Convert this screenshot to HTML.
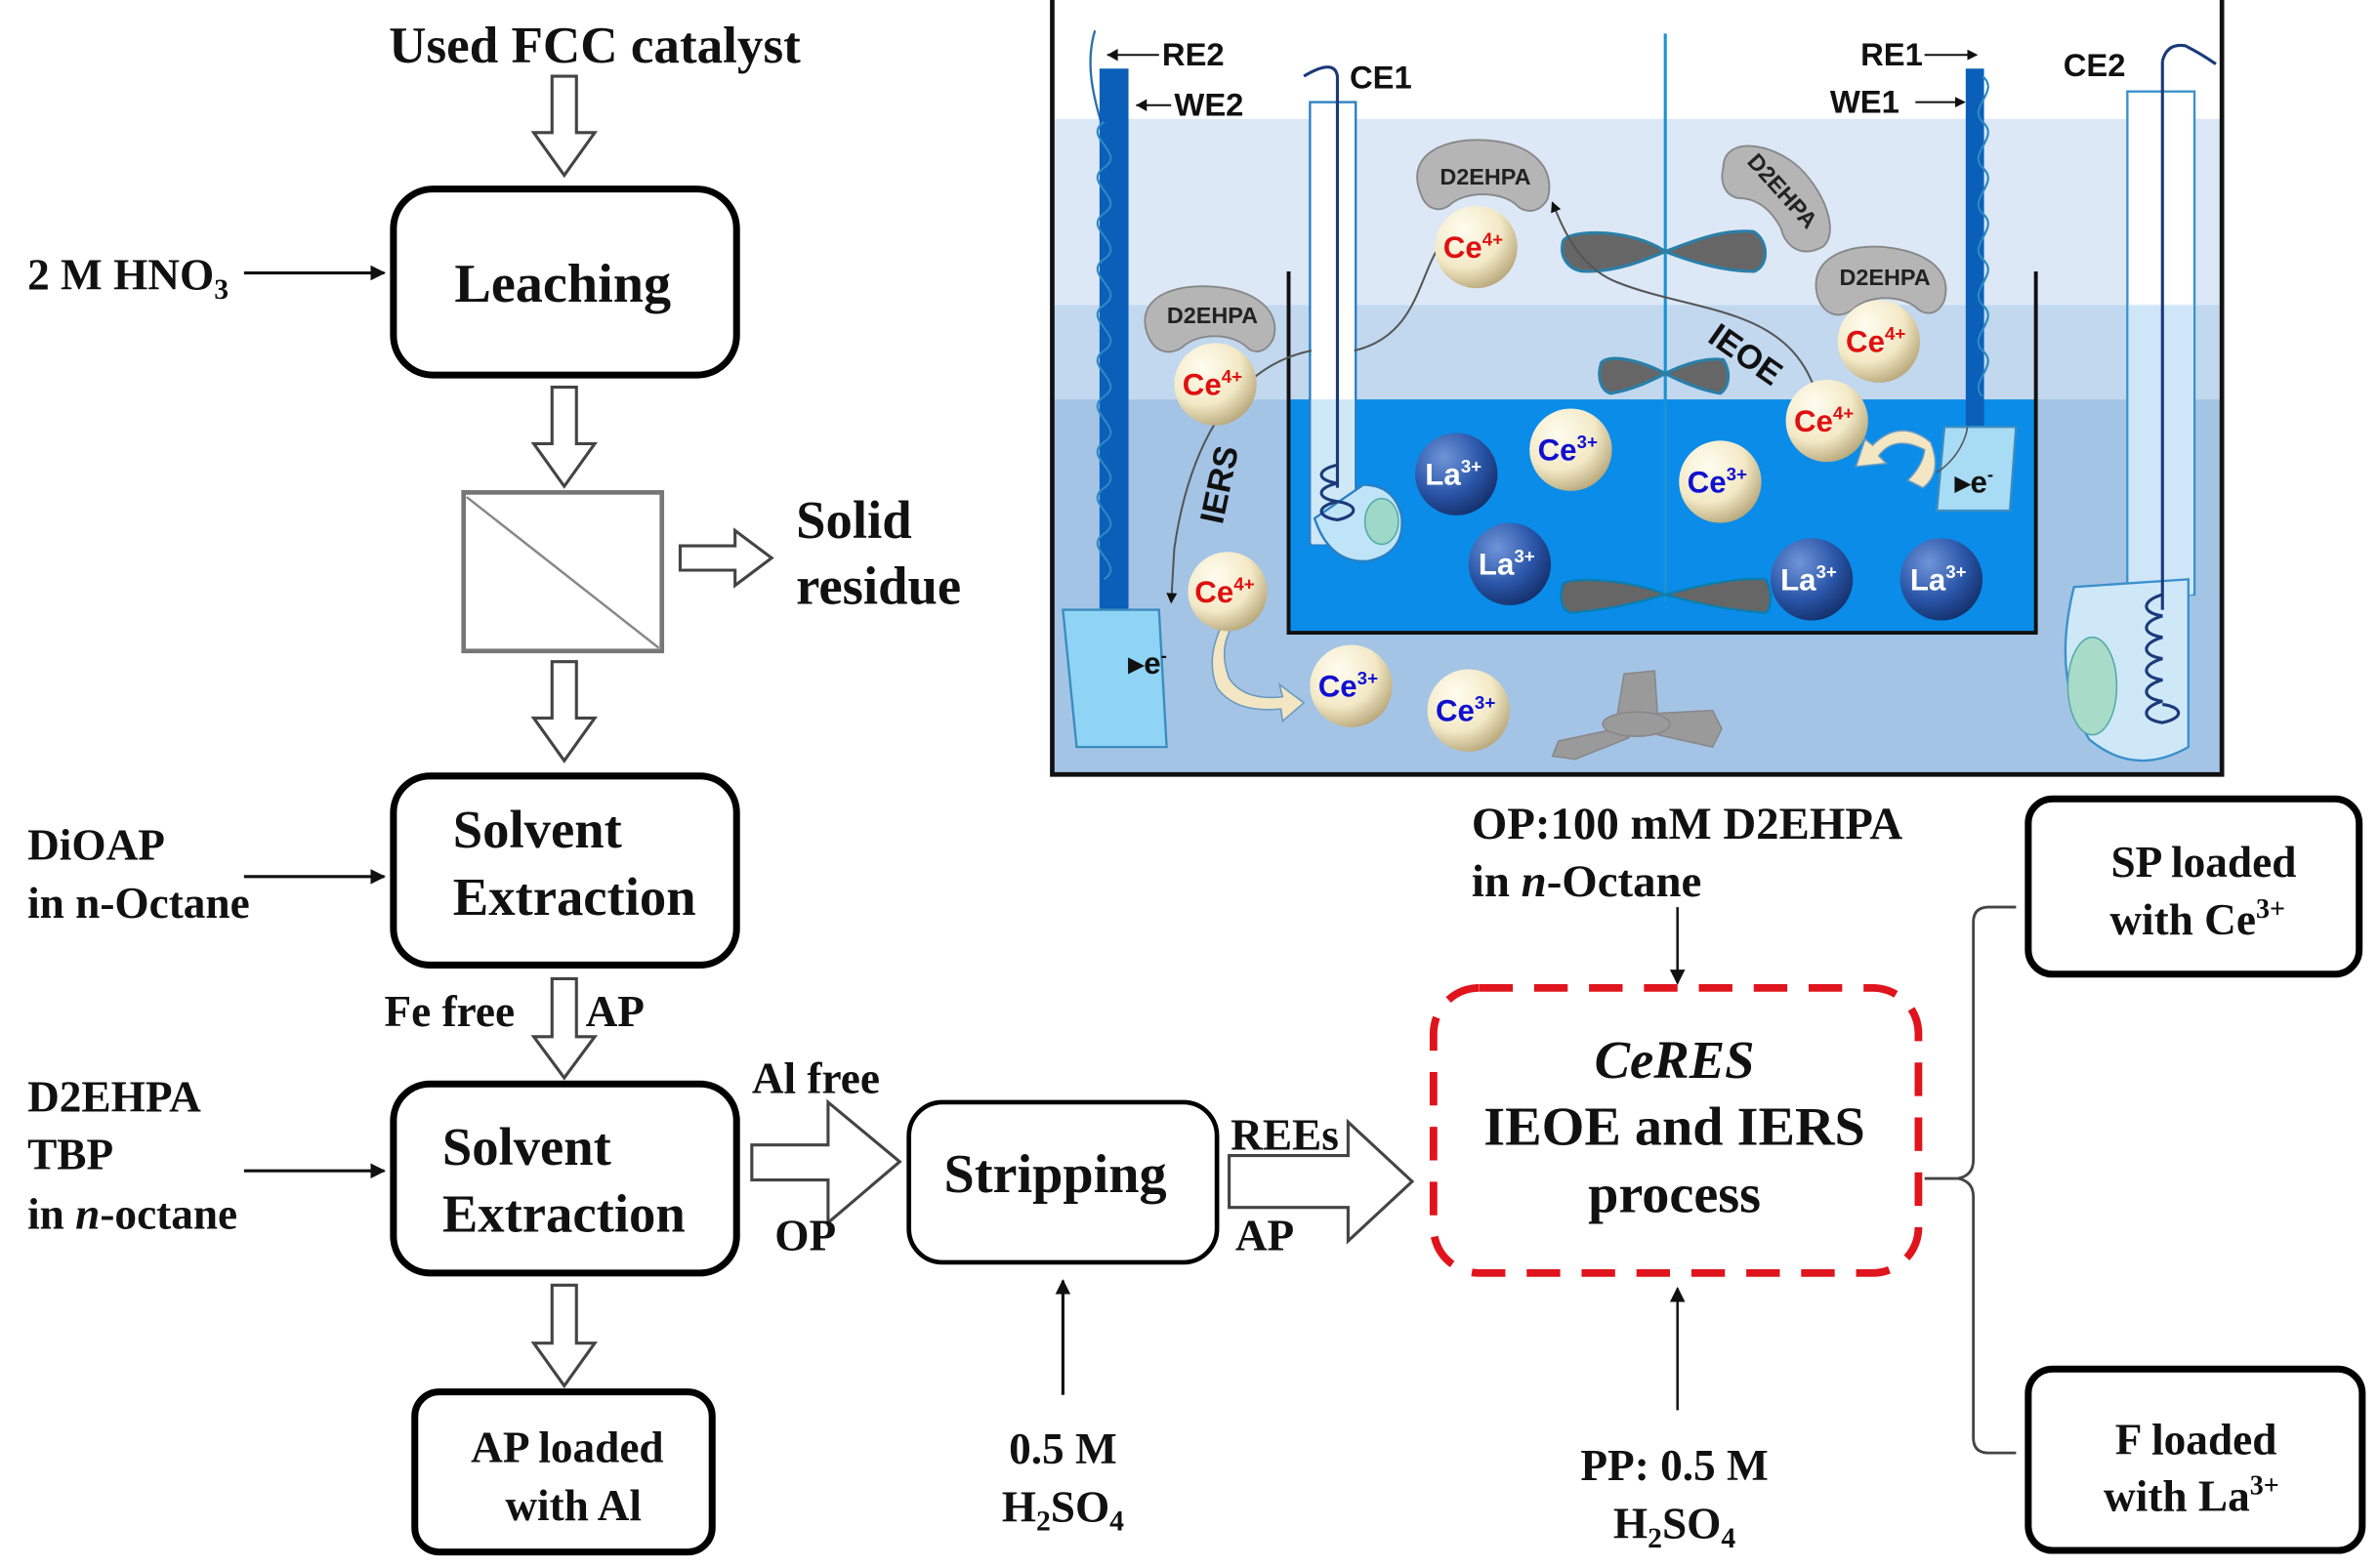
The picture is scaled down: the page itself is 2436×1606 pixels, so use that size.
<!DOCTYPE html>
<html><head><meta charset="utf-8"><style>
html,body{margin:0;padding:0;background:#fff;}
svg{display:block;}
.t{font-family:"Liberation Serif",serif;font-weight:bold;fill:#111;}
.s{font-family:"Liberation Sans",sans-serif;font-weight:bold;}
</style></head><body>
<svg width="2436" height="1606" viewBox="0 0 1560 1028.5" preserveAspectRatio="none" xmlns="http://www.w3.org/2000/svg">
<defs>
<marker id="ah" markerWidth="10" markerHeight="10" refX="9" refY="5" orient="auto" markerUnits="userSpaceOnUse"><path d="M0,0 L10,5 L0,10 z" fill="#111"/></marker>
<marker id="sa" markerWidth="7" markerHeight="7" refX="6" refY="3.5" orient="auto" markerUnits="userSpaceOnUse"><path d="M0,0 L7,3.5 L0,7 z" fill="#111"/></marker>
<radialGradient id="cream" cx="0.35" cy="0.3" r="0.75"><stop offset="0" stop-color="#fffdf0"/><stop offset="0.6" stop-color="#f3e9c6"/><stop offset="1" stop-color="#b7a77a"/></radialGradient>
<radialGradient id="la" cx="0.35" cy="0.3" r="0.75"><stop offset="0" stop-color="#6f95d8"/><stop offset="0.6" stop-color="#2a55a8"/><stop offset="1" stop-color="#14306a"/></radialGradient>
</defs>

<!-- ===== Flowchart left ===== -->
<text class="t" x="390" y="41" font-size="34" text-anchor="middle">Used FCC catalyst</text>
<path d="M362,50 h16 v37 h12 l-20,28 l-20,-28 h12 z" fill="#fff" stroke="#444" stroke-width="2"/>
<rect x="258" y="124" width="225" height="122" rx="26" fill="#fff" stroke="#000" stroke-width="4.5"/>
<text class="t" x="369" y="198" font-size="36" text-anchor="middle">Leaching</text>
<text class="t" x="18" y="190" font-size="29">2 M HNO<tspan font-size="19" dy="6">3</tspan></text>
<line x1="160" y1="179" x2="252" y2="179" stroke="#111" stroke-width="2" marker-end="url(#ah)"/>

<path d="M362,254 h16 v37 h12 l-20,28 l-20,-28 h12 z" fill="#fff" stroke="#444" stroke-width="2"/>
<rect x="304" y="323" width="130" height="104" fill="#fff" stroke="#777" stroke-width="3"/>
<line x1="306" y1="326" x2="432" y2="425" stroke="#888" stroke-width="1.6"/>
<path d="M446,358 h36 v-10 l24,18 l-24,18 v-10 h-36 z" fill="#fff" stroke="#444" stroke-width="2"/>
<text class="t" x="522" y="353" font-size="35">Solid</text>
<text class="t" x="522" y="396" font-size="35">residue</text>

<path d="M362,434 h16 v37 h12 l-20,28 l-20,-28 h12 z" fill="#fff" stroke="#444" stroke-width="2"/>
<rect x="258" y="509" width="225" height="124" rx="24" fill="#fff" stroke="#000" stroke-width="4.5"/>
<text class="t" x="297" y="556" font-size="35">Solvent</text>
<text class="t" x="297" y="600" font-size="35">Extraction</text>
<text class="t" x="18" y="564" font-size="29">DiOAP</text>
<text class="t" x="18" y="602" font-size="29">in n-Octane</text>
<line x1="160" y1="575" x2="252" y2="575" stroke="#111" stroke-width="2" marker-end="url(#ah)"/>

<text class="t" x="252" y="673" font-size="29">Fe free</text>
<text class="t" x="384" y="673" font-size="29">AP</text>
<path d="M362,642 h16 v38 h12 l-20,27 l-20,-27 h12 z" fill="#fff" stroke="#444" stroke-width="2"/>
<rect x="258" y="711" width="225" height="124" rx="24" fill="#fff" stroke="#000" stroke-width="4.5"/>
<text class="t" x="290" y="764" font-size="35">Solvent</text>
<text class="t" x="290" y="808" font-size="35">Extraction</text>
<text class="t" x="18" y="729" font-size="29">D2EHPA</text>
<text class="t" x="18" y="767" font-size="29">TBP</text>
<text class="t" x="18" y="806" font-size="29">in <tspan font-style="italic">n</tspan>-octane</text>
<line x1="160" y1="768" x2="252" y2="768" stroke="#111" stroke-width="2" marker-end="url(#ah)"/>

<path d="M362,843 h16 v38 h12 l-20,28 l-20,-28 h12 z" fill="#fff" stroke="#444" stroke-width="2"/>
<rect x="272" y="913" width="195" height="105" rx="16" fill="#fff" stroke="#000" stroke-width="4.5"/>
<text class="t" x="372" y="959" font-size="29" text-anchor="middle">AP loaded</text>
<text class="t" x="376" y="997" font-size="29" text-anchor="middle">with Al</text>

<text class="t" x="493" y="717" font-size="29">Al free</text>
<path d="M493,751 h50 v-28 l47,39 l-47,40 v-28 h-50 z" fill="#fff" stroke="#444" stroke-width="2"/>
<text class="t" x="508" y="820" font-size="29">OP</text>
<rect x="596" y="723" width="202" height="105" rx="22" fill="#fff" stroke="#000" stroke-width="3"/>
<text class="t" x="692" y="782" font-size="36" text-anchor="middle">Stripping</text>
<line x1="697" y1="915" x2="697" y2="840" stroke="#111" stroke-width="2" marker-end="url(#ah)"/>
<text class="t" x="697" y="960" font-size="29" text-anchor="middle">0.5 M</text>
<text class="t" x="697" y="998" font-size="29" text-anchor="middle">H<tspan font-size="19" dy="6">2</tspan><tspan dy="-6">SO</tspan><tspan font-size="19" dy="6">4</tspan></text>

<path d="M806,758 h78 v-22 l42,39 l-42,39 v-22 h-78 z" fill="#fff" stroke="#444" stroke-width="2"/>
<rect x="808" y="736" width="74" height="20" fill="#fff"/>
<text class="t" x="807" y="754" font-size="29">REEs</text>
<text class="t" x="810" y="820" font-size="29">AP</text>

<rect x="940" y="648" width="318" height="187" rx="30" fill="none" stroke="#e0141c" stroke-width="5" stroke-dasharray="22,14"/>
<text class="t" x="1098" y="707" font-size="35" text-anchor="middle" font-style="italic">CeRES</text>
<text class="t" x="1098" y="751" font-size="36" text-anchor="middle">IEOE and IERS</text>
<text class="t" x="1098" y="795" font-size="36" text-anchor="middle">process</text>
<text class="t" x="965" y="550" font-size="30">OP:100 mM D2EHPA</text>
<text class="t" x="965" y="588" font-size="30">in <tspan font-style="italic">n</tspan>-Octane</text>
<line x1="1100" y1="595" x2="1100" y2="645" stroke="#111" stroke-width="1.6" marker-end="url(#ah)"/>
<line x1="1100" y1="925" x2="1100" y2="845" stroke="#111" stroke-width="1.6" marker-end="url(#ah)"/>
<text class="t" x="1098" y="971" font-size="29" text-anchor="middle">PP: 0.5 M</text>
<text class="t" x="1098" y="1009" font-size="29" text-anchor="middle">H<tspan font-size="19" dy="6">2</tspan><tspan dy="-6">SO</tspan><tspan font-size="19" dy="6">4</tspan></text>

<path d="M1322,595 h-18 q-10,0 -10,10 v156 q0,10 -10,12 h-22 M1262,773 h22 q10,2 10,12 v158 q0,10 10,10 h18" fill="none" stroke="#444" stroke-width="1.8"/>
<rect x="1330" y="524" width="217" height="115" rx="16" fill="#fff" stroke="#000" stroke-width="4.5"/>
<text class="t" x="1445" y="575" font-size="29" text-anchor="middle">SP loaded</text>
<text class="t" x="1441" y="613" font-size="29" text-anchor="middle">with Ce<tspan font-size="18" dy="-11">3+</tspan></text>
<rect x="1330" y="898" width="219" height="119" rx="16" fill="#fff" stroke="#000" stroke-width="4.5"/>
<text class="t" x="1440" y="954" font-size="29" text-anchor="middle">F loaded</text>
<text class="t" x="1437" y="991" font-size="29" text-anchor="middle">with La<tspan font-size="18" dy="-11">3+</tspan></text>

<!-- ===== Beaker figure ===== -->
<g>
<rect x="690" y="0" width="767" height="78" fill="#fff"/>
<rect x="690" y="78" width="767" height="122" fill="#dce8f5"/>
<rect x="690" y="200" width="767" height="62" fill="#c1d8ee"/>
<rect x="690" y="262" width="767" height="246" fill="#a4c4e6"/>
<rect x="845" y="262" width="490" height="152" fill="#0a8ce8"/>
<path d="M845,178 V415 H1335 V178" fill="none" stroke="#111" stroke-width="2.5"/>
<path d="M690,0 V508 H1457 V0" fill="none" stroke="#111" stroke-width="3"/>
<line x1="1092" y1="22" x2="1092" y2="395" stroke="#1c92d2" stroke-width="2"/>

<path d="M1092,165 C1070,150 1030,150 1025,158 C1022,170 1030,178 1040,178 C1060,178 1075,172 1092,165 C1110,158 1130,150 1150,152 C1160,158 1160,175 1150,178 C1130,178 1110,172 1092,165 z" fill="#666" stroke="#2a7fa8" stroke-width="2"/>
<path d="M1092,245 C1075,236 1055,232 1050,238 C1047,248 1050,256 1056,258 C1070,256 1082,250 1092,245 C1102,240 1118,234 1130,236 C1135,244 1134,254 1128,258 C1115,256 1102,250 1092,245 z" fill="#666" stroke="#2a7fa8" stroke-width="2"/>
<path d="M1092,390 C1070,380 1030,378 1025,383 C1022,393 1024,400 1030,402 C1055,400 1075,395 1092,390 C1110,385 1140,378 1158,380 C1162,388 1162,398 1158,402 C1130,400 1110,395 1092,390 z" fill="#666" stroke="#0a7fb0" stroke-width="1.5"/>
<g fill="#9a9a9a" stroke="#888">
<path d="M1060,472 l5,-30 l20,-2 l2,30 z"/>
<path d="M1060,478 l-38,8 l-4,10 l15,2 l35,-14 z"/>
<path d="M1085,468 l38,-2 l6,12 l-6,12 l-36,-8 z"/>
<ellipse cx="1073" cy="475" rx="22" ry="8"/>
</g>

<path d="M718,20 C712,40 716,60 722,80" fill="none" stroke="#2c6fa8" stroke-width="1.5"/>
<rect x="721" y="45" width="19" height="357" fill="#0a5fb8"/>
<path d="M724,80 c-15,10 15,20 0,30 c-15,10 15,20 0,30 c-15,10 15,20 0,30 c-15,10 15,20 0,30 c-15,10 15,20 0,30 c-15,10 15,20 0,30 c-15,10 15,20 0,30 c-15,10 15,20 0,30 c-15,10 15,20 0,30 c-15,10 15,20 0,30" fill="none" stroke="#2d88c4" stroke-width="1.4"/>
<path d="M697,400 L760,400 L765,490 L706,490 z" fill="#8fd4f5" stroke="#3a8cc0" stroke-width="1.5"/>
<text class="s" x="740" y="442" font-size="20" fill="#111">▸e<tspan font-size="12" dy="-8">-</tspan></text>
<line x1="726" y1="36" x2="760" y2="36" stroke="#111" stroke-width="1.3"/>
<path d="M726,36 l7,-4 v8 z" fill="#111"/>
<text class="s" x="762" y="43" font-size="21" fill="#111">RE2</text>
<line x1="745" y1="69" x2="768" y2="69" stroke="#111" stroke-width="1.3"/>
<path d="M745,69 l7,-4 v8 z" fill="#111"/>
<text class="s" x="770" y="76" font-size="21" fill="#111">WE2</text>

<rect x="859" y="67" width="30" height="290" fill="#fff" stroke="#2a7fc2" stroke-width="1.5"/>
<rect x="860" y="262" width="28" height="95" fill="#cfe8f8"/>
<path d="M855,50 q20,-12 22,0 V320" fill="none" stroke="#1a3a7a" stroke-width="2"/>
<path d="M862,340 q10,30 35,28 q25,-5 22,-30 q-5,-20 -25,-20 z" fill="#bfe4f8" stroke="#2a7fc2" stroke-width="1.5"/>
<ellipse cx="906" cy="342" rx="11" ry="15" fill="#9ed8c8" stroke="#5aa"/>
<path d="M877,305 c-14,3 -14,10 0,12 c-14,3 -14,10 0,12 c-14,3 -14,10 0,12 c14,-3 14,-10 0,-12" fill="none" stroke="#1a3a7a" stroke-width="2"/>
<text class="s" x="885" y="58" font-size="21" fill="#111">CE1</text>

<rect x="1289" y="45" width="12" height="235" fill="#0a5fb8"/>
<path d="M1300,50 c12,10 -10,20 0,30 c12,10 -10,20 0,30 c12,10 -10,20 0,30 c12,10 -10,20 0,30 c12,10 -10,20 0,30 c12,10 -10,20 0,30 c12,10 -10,20 0,30" fill="none" stroke="#2d88c4" stroke-width="1.4"/>
<path d="M1275,280 L1322,280 L1318,335 L1270,335 z" fill="#a8dcf5" stroke="#3a8cc0" stroke-width="1.5"/>
<text class="s" x="1282" y="323" font-size="20" fill="#111">▸e<tspan font-size="12" dy="-8">-</tspan></text>
<text class="s" x="1220" y="43" font-size="21" fill="#111">RE1</text>
<line x1="1262" y1="36" x2="1296" y2="36" stroke="#111" stroke-width="1.3" marker-end="url(#sa)"/>
<text class="s" x="1200" y="74" font-size="21" fill="#111">WE1</text>
<line x1="1256" y1="67" x2="1288" y2="67" stroke="#111" stroke-width="1.3" marker-end="url(#sa)"/>

<rect x="1395" y="60" width="44" height="330" fill="#fff" stroke="#3a90cc" stroke-width="1.5"/>
<rect x="1396" y="200" width="42" height="190" fill="#cfe6f8"/>
<path d="M1360,385 q-15,60 10,100 q30,25 65,5 V380 z" fill="#cfe8f8" stroke="#3a90cc" stroke-width="1.5"/>
<ellipse cx="1372" cy="450" rx="16" ry="32" fill="#a8dcc8" stroke="#5aa"/>
<path d="M1418,40 q3,-12 15,-10 q10,5 20,12 M1418,40 V400" fill="none" stroke="#1a3a7a" stroke-width="2"/>
<path d="M1418,390 c-14,4 -14,12 0,14 c-14,4 -14,12 0,14 c-14,4 -14,12 0,14 c-14,4 -14,12 0,14 c-14,4 -14,12 0,14 c-14,4 -14,12 0,14 c14,-3 14,-10 0,-12" fill="none" stroke="#1a3a7a" stroke-width="2"/>
<text class="s" x="1353" y="50" font-size="21" fill="#111">CE2</text>

<path d="M888,230 C930,220 930,180 945,160" fill="none" stroke="#555" stroke-width="1.3"/>
<path d="M1190,255 C1170,200 1110,205 1060,185 C1035,175 1025,150 1018,133" fill="none" stroke="#555" stroke-width="1.3" marker-end="url(#sa)"/>
<path d="M860,230 C810,240 780,290 770,360 L768,395" fill="none" stroke="#555" stroke-width="1.3" marker-end="url(#sa)"/>
<path d="M1270,310 C1285,300 1290,285 1290,280" fill="none" stroke="#555" stroke-width="1"/>
<path d="M818,400 q-22,18 -12,45 q10,15 35,12 l-2,-8 l16,12 l-14,12 l-1,-8 q-30,3 -42,-14 q-10,-25 12,-55 z" fill="#f3e6c2" stroke="#6a9ac0" stroke-width="1"/>
<path d="M1262,295 q-20,-10 -30,4 l5,5 l-20,2 l6,-18 l5,4 q18,-18 38,-2 q8,20 -5,30 l-10,-5 q10,-10 11,-20 z" fill="#f3e6c2" stroke="#6a9ac0" stroke-width="1"/>

<g fill="#b5b5b5" stroke="#888" stroke-width="1.2">
<path d="M932,128 C920,100 950,90 975,92 C1005,94 1020,110 1015,130 C1010,140 1000,140 995,135 C985,125 960,125 950,135 C942,140 935,136 932,128 z"/>
<path d="M752,218 C745,195 770,186 795,188 C825,190 840,205 835,222 C830,232 822,232 818,228 C808,218 785,218 775,228 C765,234 756,230 752,218 z"/>
<path d="M1192,195 C1185,170 1210,160 1235,162 C1265,165 1280,178 1275,197 C1270,208 1262,206 1258,203 C1248,193 1225,193 1215,203 C1205,210 1196,206 1192,195 z"/>
<path d="M1130,110 C1130,90 1160,92 1180,110 C1200,130 1205,155 1195,162 C1180,170 1170,160 1168,150 C1160,135 1150,130 1140,130 C1130,128 1128,118 1130,110 z"/>
</g>
<g class="s" font-size="15" fill="#222">
<text x="974" y="121" text-anchor="middle">D2EHPA</text>
<text x="795" y="212" text-anchor="middle">D2EHPA</text>
<text x="1236" y="187" text-anchor="middle">D2EHPA</text>
<text x="1168" y="130" text-anchor="middle" transform="rotate(48 1168 126)">D2EHPA</text>
</g>
<g class="s" font-size="22" fill="#111">
<text x="1145" y="240" text-anchor="middle" transform="rotate(35 1145 232)">IEOE</text>
<text x="800" y="325" text-anchor="middle" transform="rotate(-78 800 318)">IERS</text>
</g>

<g stroke="none">
<circle cx="968" cy="162" r="27" fill="url(#cream)"/>
<circle cx="797" cy="252" r="27" fill="url(#cream)"/>
<circle cx="1232" cy="224" r="27" fill="url(#cream)"/>
<circle cx="1198" cy="276" r="27" fill="url(#cream)"/>
<circle cx="805" cy="388" r="26" fill="url(#cream)"/>
<circle cx="1030" cy="295" r="27" fill="url(#cream)"/>
<circle cx="1128" cy="316" r="27" fill="url(#cream)"/>
<circle cx="886" cy="450" r="27" fill="url(#cream)"/>
<circle cx="963" cy="466" r="27" fill="url(#cream)"/>
<circle cx="955" cy="311" r="27" fill="url(#la)"/>
<circle cx="990" cy="370" r="27" fill="url(#la)"/>
<circle cx="1188" cy="380" r="27" fill="url(#la)"/>
<circle cx="1273" cy="380" r="27" fill="url(#la)"/>
</g>
<g class="s" font-size="20" text-anchor="middle">
<text x="966" y="169" fill="#e01010">Ce<tspan font-size="12" dy="-8">4+</tspan></text>
<text x="795" y="259" fill="#e01010">Ce<tspan font-size="12" dy="-8">4+</tspan></text>
<text x="1230" y="231" fill="#e01010">Ce<tspan font-size="12" dy="-8">4+</tspan></text>
<text x="1196" y="283" fill="#e01010">Ce<tspan font-size="12" dy="-8">4+</tspan></text>
<text x="803" y="395" fill="#e01010">Ce<tspan font-size="12" dy="-8">4+</tspan></text>
<text x="1028" y="302" fill="#1010d0">Ce<tspan font-size="12" dy="-8">3+</tspan></text>
<text x="1126" y="323" fill="#1010d0">Ce<tspan font-size="12" dy="-8">3+</tspan></text>
<text x="884" y="457" fill="#1010d0">Ce<tspan font-size="12" dy="-8">3+</tspan></text>
<text x="961" y="473" fill="#1010d0">Ce<tspan font-size="12" dy="-8">3+</tspan></text>
<text x="953" y="318" fill="#fff">La<tspan font-size="12" dy="-8">3+</tspan></text>
<text x="988" y="377" fill="#fff">La<tspan font-size="12" dy="-8">3+</tspan></text>
<text x="1186" y="387" fill="#fff">La<tspan font-size="12" dy="-8">3+</tspan></text>
<text x="1271" y="387" fill="#fff">La<tspan font-size="12" dy="-8">3+</tspan></text>
</g>
</g>
</svg>
</body></html>
